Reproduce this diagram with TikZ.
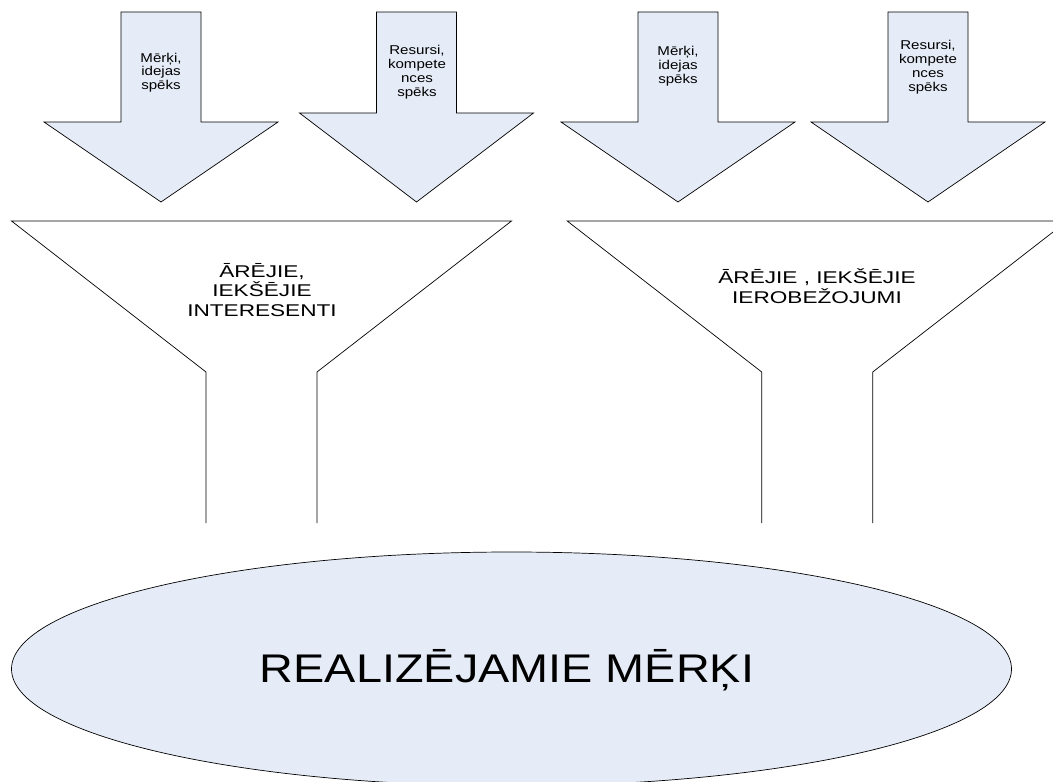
\documentclass[tikz,border=0pt]{standalone}
\usepackage{fontspec}
\setmainfont{Liberation Sans}
\definecolor{paleblue}{RGB}{230,236,247}
\tikzset{
  outline/.style={draw=black, line width=0.7pt, line join=miter},
  blockarrow/.style={outline, fill=paleblue},
  arrowtext/.style={align=center, inner sep=0pt, xscale=1.18,
    font=\fontsize{12.8}{13.8}\selectfont},
  funneltext/.style={align=center, inner sep=0pt, xscale=1.33,
    font=\fontsize{17}{19.5}\selectfont},
  goaltext/.style={inner sep=0pt, xscale=1.17,
    font=\fontsize{40}{46}\selectfont},
}
% wide downward block arrow: #1 centre x, #2 y of the shoulders
\newcommand\downblock[2]{%
  \draw[blockarrow] (#1-40,12) -- (#1+40,12) -- (#1+40,#2) -- (#1+117,#2)
    -- (#1,202) -- (#1-117,#2) -- (#1-40,#2) -- cycle;}
% open funnel outline: #1 centre x
\newcommand\funnelshape[1]{%
  \draw[outline] (#1-55.5,523) -- (#1-55.5,372) -- (#1-250,221)
    -- (#1+250,221) -- (#1+55.5,372) -- (#1+55.5,523);}
\begin{document}
\begin{tikzpicture}[x=1pt,y=-1pt]
\useasboundingbox (0,0) rectangle (1053,782);
\clip (0,0) rectangle (1053,782);

% four input arrows
\downblock{161}{122}
\downblock{416.5}{113}
\downblock{678}{122}
\downblock{928}{122}
\node[arrowtext] (a1) at (161,72.5) {Mērķi,\\idejas\\spēks};
\node[arrowtext] (a2) at (417,72) {Resursi,\\kompete\\nces\\spēks};
\node[arrowtext] (a3) at (678,66) {Mērķi,\\idejas\\spēks};
\node[arrowtext] (a4) at (928,67) {Resursi,\\kompete\\nces\\spēks};

% two funnels
\funnelshape{261.5}
\funnelshape{817.2}
\node[funneltext] (f1) at (262,290) {ĀRĒJIE,\\IEKŠĒJIE\\INTERESENTI};
\node[funneltext] (f2) at (817,286) {ĀRĒJIE , IEKŠĒJIE\\IEROBEŽOJUMI};

% resulting goals
\draw[outline, fill=paleblue] (511.5,669) ellipse [x radius=500, y radius=117];
\node[goaltext] (goal) at (507,670) {REALIZĒJAMIE MĒRĶI};
\end{tikzpicture}
\end{document}
